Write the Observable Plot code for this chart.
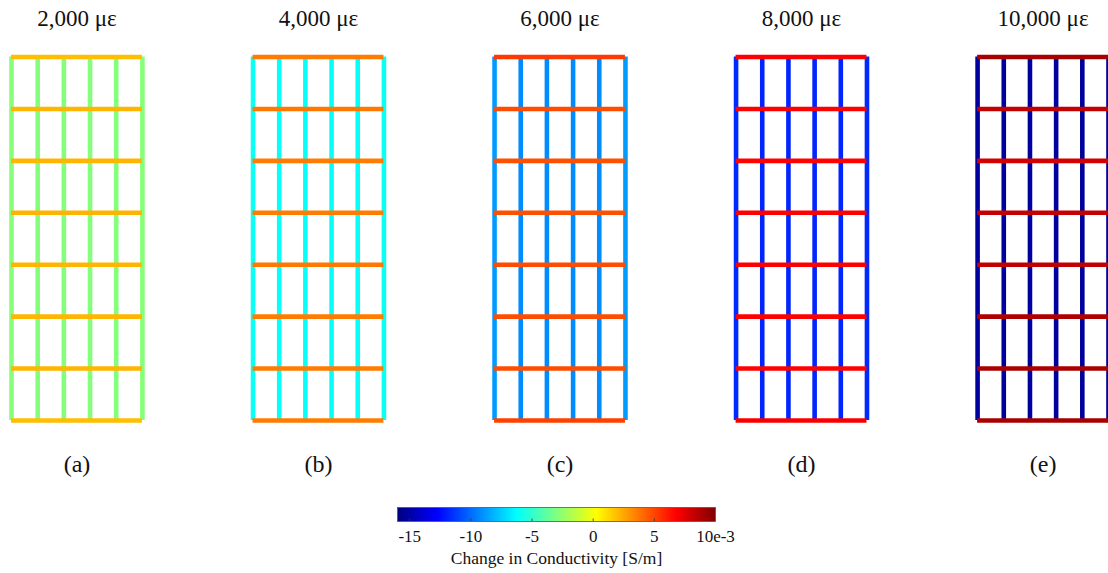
<!DOCTYPE html>
<html>
<head>
<meta charset="utf-8">
<script src="https://cdn.jsdelivr.net/npm/d3@7"></script>
<script src="https://cdn.jsdelivr.net/npm/@observablehq/plot@0.6"></script>
<style>
  html, body { margin: 0; padding: 0; background: #fff; }
  #chart svg { display: block; }
</style>
</head>
<body>
<div id="chart"></div>
<script>
// Strain level of each grid and its panel letter
const strains = ["2,000 με", "4,000 με", "6,000 με", "8,000 με", "10,000 με"];
const letters = ["(a)", "(b)", "(c)", "(d)", "(e)"];

// Change in conductivity (×10⁻³ S/m) of the six vertical bars of each grid
const verticalValues = [
  [-2.8, -2.9, -2.9, -2.9, -2.9, -2.8],
  [-6.0, -6.1, -6.1, -6.1, -6.1, -6.0],
  [-8.8, -9.2, -9.2, -9.2, -9.2, -8.8],
  [-11.7, -11.8, -11.8, -11.8, -11.8, -11.7],
  [-15.2, -15.2, -15.2, -15.2, -15.2, -15.2]
];

// Change in conductivity (×10⁻³ S/m) of the eight horizontal bars, top to bottom
const horizontalValues = [
  [1.9, 2.1, 2.1, 2.2, 2.1, 2.1, 2.1, 1.9],
  [3.6, 3.7, 3.6, 3.6, 3.7, 3.6, 3.6, 3.6],
  [5.3, 4.8, 4.7, 4.7, 4.8, 4.8, 4.8, 5.1],
  [6.8, 6.8, 6.7, 6.8, 6.8, 6.8, 6.7, 6.9],
  [9.0, 8.3, 7.9, 8.2, 8.3, 8.8, 8.9, 9.0]
];

// Colour bar
const colorDomain = [-16, 10];
const tickValues = [-15, -10, -5, 0, 5, 10];
const tickLabels = ["-15", "-10", "-5", "0", "5", "10e-3"];
const colorbarLabel = "Change in Conductivity [S/m]";

// MATLAB-style "jet" colour map, t in [0, 1]
const clamp01 = v => Math.max(0, Math.min(1, v));
function jet(t) {
  const r = clamp01(Math.min(4 * t - 1.5, -4 * t + 4.5));
  const g = clamp01(Math.min(4 * t - 0.5, -4 * t + 3.5));
  const b = clamp01(Math.min(4 * t + 0.5, -4 * t + 2.5));
  return d3.rgb(r * 255, g * 255, b * 255).formatHex();
}
const colorScale = {type: "linear", domain: colorDomain, interpolate: jet};

const verticals = strains.flatMap((s, p) =>
  verticalValues[p].map((value, col) => ({panel: s, col, value})));
const horizontals = strains.flatMap((s, p) =>
  horizontalValues[p].map((value, row) => ({panel: s, row, value})));

const serif = "'Liberation Serif', 'Times New Roman', serif";

const grids = Plot.plot({
  width: 1108,
  height: 490,
  marginLeft: 11,
  marginRight: 0,
  marginTop: 56.5,
  marginBottom: 70,
  style: {fontFamily: serif, background: "#fff"},
  fx: {domain: strains, paddingInner: 0.458, paddingOuter: 0, round: false, axis: null},
  x: {domain: [0, 5], axis: null},
  y: {domain: [0, 7], reverse: true, axis: null},
  color: colorScale,
  marks: [
    Plot.ruleX(verticals, {fx: "panel", x: "col", y1: 0, y2: 7, stroke: "value", strokeWidth: 4.6}),
    Plot.ruleY(horizontals, {fx: "panel", y: "row", x1: 0, x2: 5, stroke: "value", strokeWidth: 4.6}),
    Plot.text(strains, {fx: d => d, text: d => d, frameAnchor: "top", dy: -38.5,
      lineAnchor: "middle", fontSize: 23, fill: "#111"}),
    Plot.text(letters, {fx: (d, i) => strains[i], text: d => d, frameAnchor: "bottom", dy: 51,
      fontSize: 24, fill: "#111"})
  ]
});

const colorbar = Plot.plot({
  width: 1108,
  height: 83,
  marginLeft: 397,
  marginRight: 393,
  marginTop: 17,
  marginBottom: 52,
  style: {fontFamily: serif, background: "#fff"},
  x: {domain: colorDomain},
  y: {domain: [0, 1], axis: null},
  color: colorScale,
  marks: [
    Plot.raster({fill: (x, y) => x, x1: colorDomain[0], x2: colorDomain[1], y1: 0, y2: 1,
      width: 636, height: 1}),
    Plot.ruleX(tickValues.slice(0, -1), {x: d => d, y1: 0, y2: 0.18, stroke: "#333", strokeWidth: 0.8}),
    Plot.frame({stroke: "#555", strokeWidth: 0.8}),
    Plot.axisX({ticks: tickValues, tickFormat: d => tickLabels[tickValues.indexOf(d)],
      tickSize: 0, tickPadding: 8, fontSize: 17, label: null, fill: "#111"}),
    Plot.text([colorbarLabel], {text: d => d, frameAnchor: "bottom", dy: 42, fontSize: 17.5, fill: "#111"})
  ]
});

const chart = document.getElementById("chart");
chart.append(grids, colorbar);
</script>
</body>
</html>
